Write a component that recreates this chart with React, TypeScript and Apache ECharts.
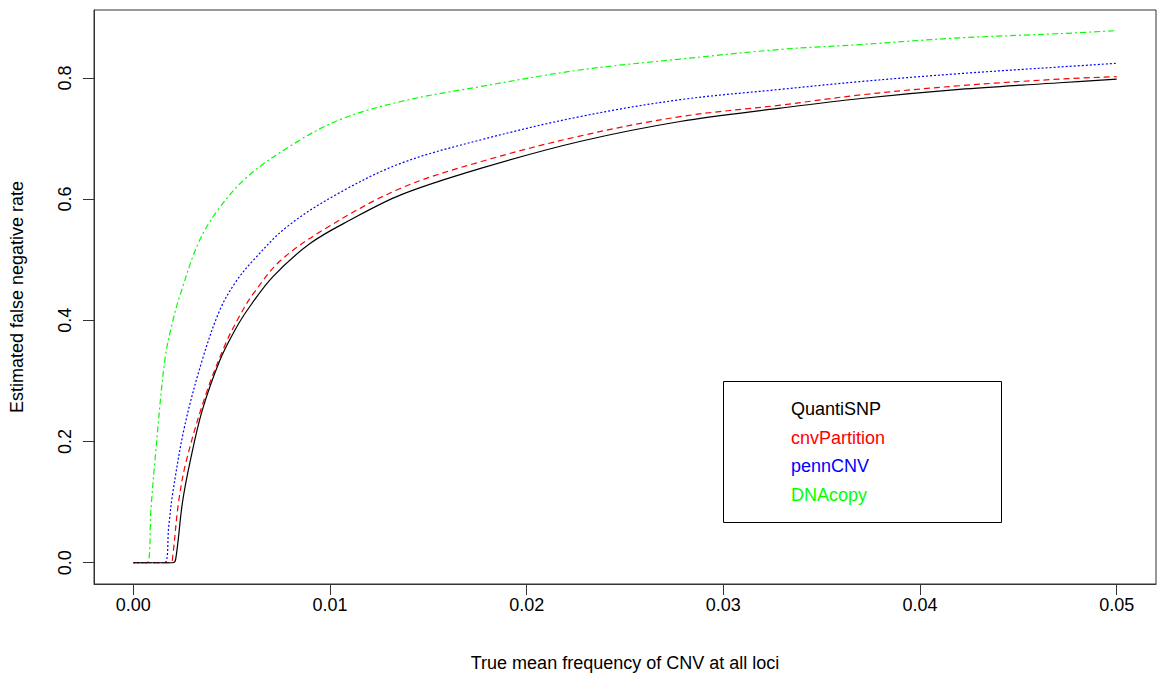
import React, { useEffect, useRef } from "react";
import * as echarts from "echarts";

// Method names and colours
const methodNames = ["QuantiSNP", "cnvPartition", "pennCNV", "DNAcopy"];
const methodColors = ["#000000", "#FF0000", "#0000FF", "#00FF00"];

// Estimated false negative rate curves (x = true mean CNV frequency)
const quantiSnpX = [0, 0.002, 0.00215, 0.0025, 0.0029, 0.0035, 0.0044, 0.0051, 0.0058, 0.0071, 0.009, 0.011, 0.0136, 0.0177, 0.0227, 0.0278, 0.0329, 0.037, 0.042, 0.0471, 0.05];
const quantiSnpY = [0, 0, 0.005, 0.1, 0.169, 0.251, 0.334, 0.38, 0.417, 0.472, 0.527, 0.565, 0.607, 0.651, 0.695, 0.728, 0.75, 0.766, 0.781, 0.792, 0.798];

const cnvPartitionX = [0, 0.0019, 0.002, 0.0023, 0.0027, 0.0037, 0.0047, 0.0054, 0.0061, 0.0075, 0.0099, 0.0136, 0.0177, 0.0227, 0.0278, 0.0329, 0.037, 0.042, 0.0471, 0.05];
const cnvPartitionY = [0, 0, 0.01, 0.1, 0.169, 0.279, 0.362, 0.407, 0.444, 0.499, 0.554, 0.618, 0.662, 0.704, 0.736, 0.755, 0.772, 0.787, 0.798, 0.802];

const pennCnvX = [0, 0.0016, 0.0018, 0.002, 0.0026, 0.0035, 0.0044, 0.0052, 0.0061, 0.0078, 0.0104, 0.0136, 0.0177, 0.0227, 0.0278, 0.0329, 0.037, 0.042, 0.0471, 0.05];
const pennCnvY = [0, 0, 0.06, 0.114, 0.224, 0.334, 0.417, 0.463, 0.499, 0.554, 0.609, 0.659, 0.698, 0.736, 0.764, 0.781, 0.794, 0.807, 0.818, 0.824];

const dnaCopyX = [0, 0.0007, 0.0009, 0.0011, 0.0016, 0.002, 0.0024, 0.0033, 0.0043, 0.0058, 0.0082, 0.0105, 0.0136, 0.0177, 0.0227, 0.0278, 0.0329, 0.037, 0.042, 0.0471, 0.05];
const dnaCopyY = [0, 0, 0.09, 0.169, 0.334, 0.398, 0.444, 0.527, 0.582, 0.637, 0.692, 0.731, 0.761, 0.786, 0.813, 0.831, 0.847, 0.855, 0.866, 0.873, 0.878];

// Axis ticks
const xTicks = [0, 0.01, 0.02, 0.03, 0.04, 0.05];
const yTicks = [0, 0.2, 0.4, 0.6, 0.8];

const xTitle = "True mean frequency of CNV at all loci";
const yTitle = "Estimated false negative rate";

const FONT = "'Liberation Sans', Arial, sans-serif";

const zip = (xs: number[], ys: number[]) => xs.map((x, i) => [x, ys[i]]);

const seriesX = [quantiSnpX, cnvPartitionX, pennCnvX, dnaCopyX];
const seriesY = [quantiSnpY, cnvPartitionY, pennCnvY, dnaCopyY];
const dashes: (string | number[])[] = ["solid", [6, 4], [2, 2], [2, 3, 6, 3]];

export default function App() {
  const ref = useRef<HTMLDivElement>(null);

  useEffect(() => {
    if (!ref.current) return;
    const chart = echarts.init(ref.current, undefined, { renderer: "svg" });

    const legendTexts = methodNames.map((name, i) => ({
      type: "text",
      left: 791,
      top: 400 + i * 28.7,
      z: 101,
      style: {
        text: name,
        fill: methodColors[i],
        font: `18px ${FONT}`,
      },
    }));

    chart.setOption({
      animation: false,
      backgroundColor: "#ffffff",
      grid: {
        left: 94,
        top: 10,
        width: 1062,
        height: 574,
        show: true,
        borderColor: "#333",
        borderWidth: 1,
      },
      xAxis: {
        type: "value",
        position: "bottom",
        min: -0.002,
        max: 0.052,
        name: xTitle,
        nameLocation: "middle",
        nameGap: 70,
        nameMoveOverlap: false,
        nameTextStyle: { fontFamily: FONT, fontSize: 18, color: "#000" },
        axisLine: { show: true, onZero: false, lineStyle: { color: "#333", width: 1 } },
        splitLine: { show: false },
        axisTick: {
          show: true,
          inside: false,
          length: 11,
          customValues: xTicks,
          lineStyle: { color: "#333" },
        },
        axisLabel: {
          customValues: xTicks,
          margin: 12,
          fontFamily: FONT,
          fontSize: 18,
          color: "#000",
          formatter: (v: number) => v.toFixed(2),
        },
      },
      yAxis: {
        type: "value",
        position: "left",
        min: -0.0351,
        max: 0.912,
        name: yTitle,
        nameLocation: "middle",
        nameGap: 68,
        nameMoveOverlap: false,
        nameTextStyle: { fontFamily: FONT, fontSize: 18, color: "#000" },
        axisLine: { show: true, onZero: false, lineStyle: { color: "#333", width: 1 } },
        splitLine: { show: false },
        axisTick: {
          show: true,
          inside: false,
          length: 11,
          customValues: yTicks,
          lineStyle: { color: "#333" },
        },
        axisLabel: {
          customValues: yTicks,
          rotate: 90,
          margin: 20,
          fontFamily: FONT,
          fontSize: 18,
          color: "#000",
          formatter: (v: number) => v.toFixed(1),
        },
      },
      series: methodNames.map((name, i) => ({
        name,
        type: "line",
        data: zip(seriesX[i], seriesY[i]),
        showSymbol: false,
        smooth: 0.35,
        clip: true,
        z: 10 - i,
        lineStyle: { color: methodColors[i], width: 1.2, type: dashes[i] },
      })),
      graphic: [
        {
          type: "rect",
          shape: { x: 723.5, y: 381.5, width: 278, height: 141 },
          style: { fill: "#fff", stroke: "#000", lineWidth: 1 },
          z: 100,
        },
        ...legendTexts,
      ],
    });

    return () => chart.dispose();
  }, []);

  return (
    <div
      ref={ref}
      style={{ position: "absolute", left: 0, top: 0, width: 1159, height: 677, background: "#fff" }}
    />
  );
}
